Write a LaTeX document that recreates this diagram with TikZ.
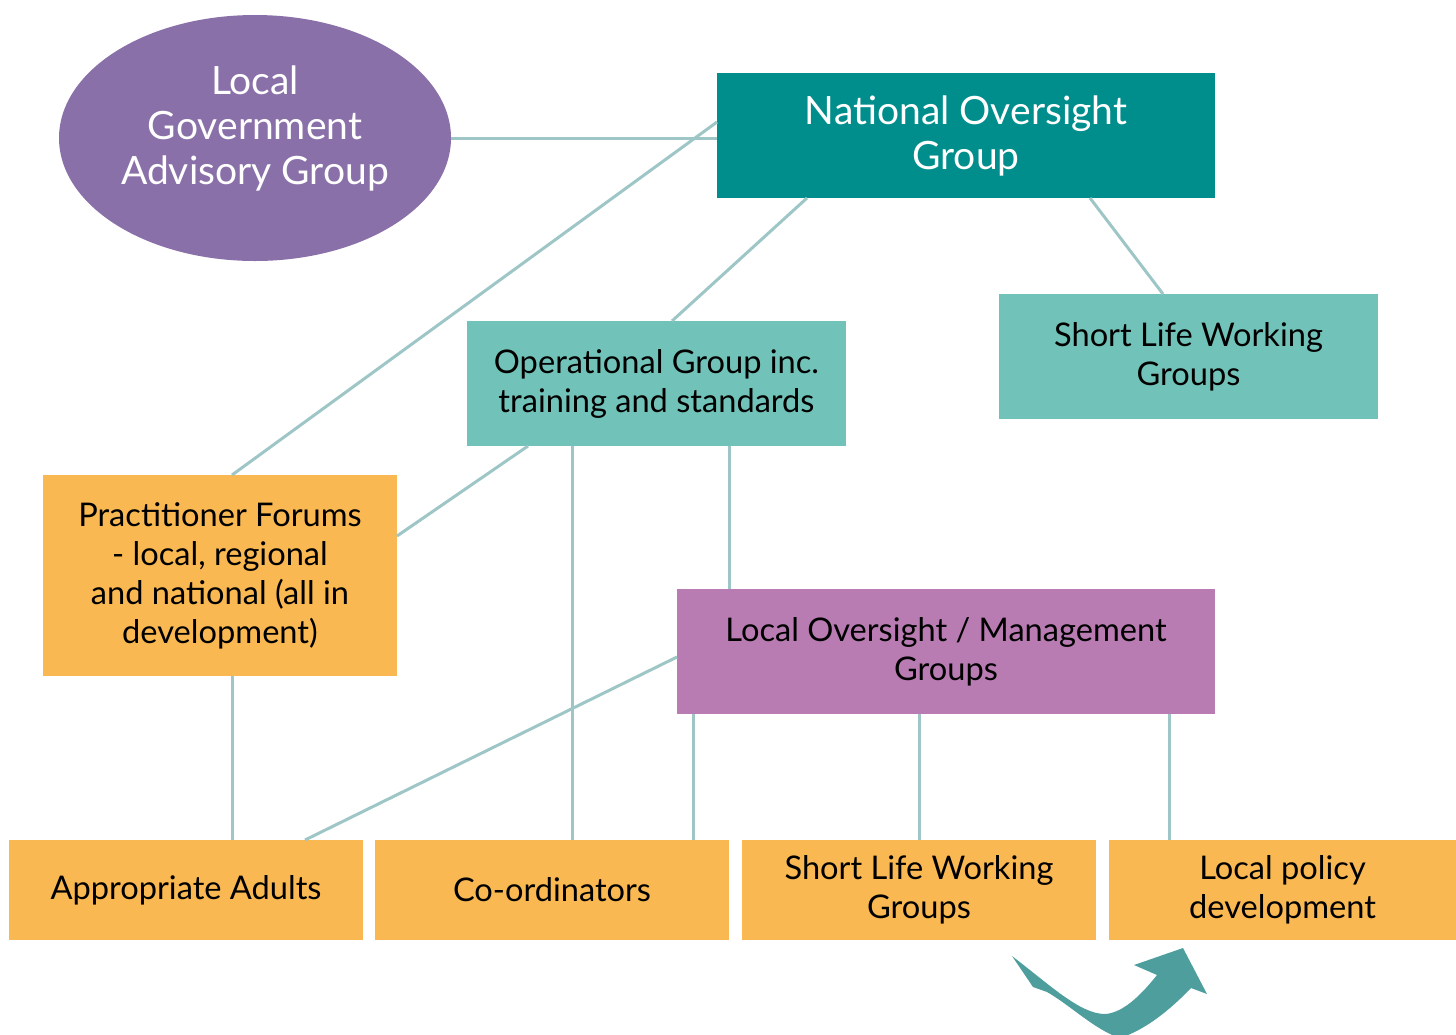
\documentclass[tikz,border=0pt]{standalone}
\usepackage{fontspec}
\setmainfont{Lato}
\usetikzlibrary{calc,shapes.geometric}
\definecolor{cpurple}{HTML}{8A70A8}
\definecolor{cteal}{HTML}{008E8C}
\definecolor{clteal}{HTML}{71C2B8}
\definecolor{corange}{HTML}{F9B851}
\definecolor{cmauve}{HTML}{B87BB2}
\definecolor{cline}{HTML}{9FC6C6}
\definecolor{carrow}{HTML}{4E9E9E}
\tikzset{
  box/.style={rectangle, inner sep=0pt, outer sep=0pt, align=center, text=black,
    font=\fontsize{16.3}{19.5}\selectfont},
  wbox/.style={box, text=white, font=\fontsize{19.5}{22.5}\selectfont},
  conn/.style={draw=cline, line width=1.5pt},
}
\begin{document}
\begin{tikzpicture}[x=0.5pt,y=-0.5pt]
\useasboundingbox (0,0) rectangle (1456,1034);
% nodes
\node[wbox, ellipse, fill=cpurple, minimum width=196pt, minimum height=123pt] (lg) at (255,138) {};
\node[wbox] (lgtext) at ($(lg.center)+(0,-10)$) {Local\\Government\\Advisory Group};
\node[wbox, fill=cteal, minimum width=249pt, minimum height=62.5pt] (nog) at (966,135.5) {\raisebox{-2.5pt}{\parbox{240pt}{\centering National Oversight\\Group}}};
\node[box, fill=clteal, minimum width=189.5pt, minimum height=62.5pt] (slw1) at (1188.5,356.5) {Short Life Working\\Groups};
\node[box, fill=clteal, minimum width=189.5pt, minimum height=62.5pt] (og) at (656.5,383.5) {Operational Group inc.\\training and standards};
\node[box, fill=corange, minimum width=177pt, minimum height=100.5pt] (pf) at (220,575.5) {Practitioner Forums\\- local, regional\\and national (all in\\development)};
\node[box, fill=cmauve, minimum width=269pt, minimum height=62.5pt] (lom) at (946,651.5) {Local Oversight / Management\\Groups};
\node[box, fill=corange, minimum width=177pt, minimum height=50pt] (aa) at (186,890) {Appropriate Adults};
\node[box, fill=corange, minimum width=177pt, minimum height=50pt] (co) at (552,890) {Co-ordinators};
\node[box, fill=corange, minimum width=177pt, minimum height=50pt] (slw2) at (919,890) {\raisebox{-2pt}{\parbox{170pt}{\centering Short Life Working\\Groups}}};
\node[box, fill=corange, minimum width=173.5pt, minimum height=50pt] (lp) at (1282.5,890) {Local policy\\development};
% connectors
\draw[conn] (lg.east) -- (lg.east -| nog.west);
\draw[conn] ($(nog.north west)+(0,49)$) -- ($(pf.north west)+(189,0)$);
\draw[conn] ($(nog.south west)+(90,0)$) -- ($(og.north west)+(205,0)$);
\draw[conn] ($(nog.south west)+(373,0)$) -- ($(slw1.north west)+(164,0)$);
\draw[conn] ($(og.south west)+(61,0)$) -- ($(pf.north east)+(0,61)$);
\coordinate (o1) at ($(og.south west)+(105,0)$);
\draw[conn] (o1) -- (o1 |- co.north);
\coordinate (o2) at ($(og.south west)+(262,0)$);
\draw[conn] (o2) -- (o2 |- lom.north);
\draw[conn] ($(lom.north west)+(0,68)$) -- ($(aa.north west)+(296,0)$);
\coordinate (l1) at ($(lom.south west)+(16,0)$);
\draw[conn] (l1) -- (l1 |- co.north);
\coordinate (l2) at ($(lom.south west)+(242,0)$);
\draw[conn] (l2) -- (l2 |- slw2.north);
\coordinate (l3) at ($(lom.south west)+(492,0)$);
\draw[conn] (l3) -- (l3 |- lp.north);
\coordinate (p1) at ($(pf.south west)+(189,0)$);
\draw[conn] (p1) -- (p1 |- aa.north);
% curved arrow
\fill[carrow] (1012,956) .. controls (1050,985) and (1080,1014) .. (1105,1014)
  .. controls (1125,1013) and (1145,990) .. (1157,975)
  -- (1134,965) -- (1183,948) -- (1207,994) -- (1191,988)
  .. controls (1170,1010) and (1145,1030) .. (1120,1038)
  .. controls (1095,1030) and (1070,1005) .. (1047,992)
  -- (1033,987) -- cycle;
\end{tikzpicture}
\end{document}
